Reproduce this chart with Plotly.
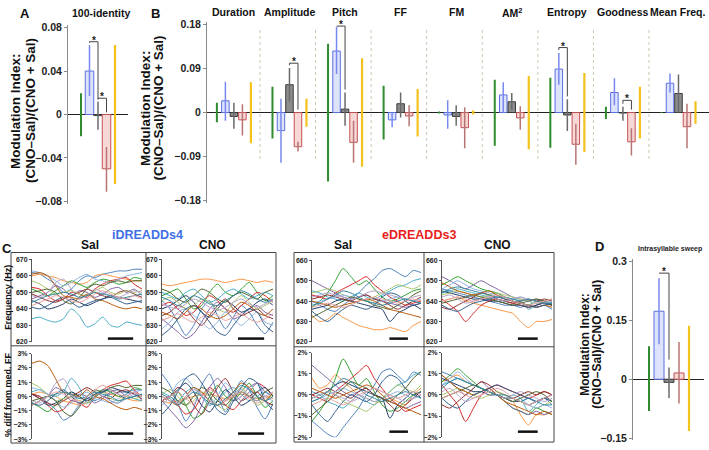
import numpy as np
import plotly.graph_objects as go

W, H = 709, 450
FONT = "Liberation Sans, Arial, Helvetica, sans-serif"

SERIES = ["green", "blue", "gray", "pink", "yellow"]

# ---------------- Panel A : 100-identity ----------------
A_val = [None, 0.040, -0.001, -0.050, None]
A_lo = [-0.020, 0.017, -0.014, -0.071, -0.064]
A_hi = [0.0195, 0.064, 0.012, -0.030, 0.064]
A_sig = [(0, 1, 2, 0.003), (0, 2, 3, 0.003)]
A_ticks = [-0.08, -0.04, 0, 0.04, 0.08]
A_ticktext = ["\u22120.08", "\u22120.04", "0", "0.04", "0.08"]

# ---------------- Panel B : song features ----------------
B_categories = ["Duration", "Amplitude", "Pitch", "FF", "FM", "AM<sup>2</sup>",
                "Entropy", "Goodness", "Mean Freq."]
B_green_lo = [-0.020, -0.053, -0.141, -0.055, -0.002, -0.068, -0.072, -0.013, -0.001]
B_green_hi = [0.020, 0.053, 0.141, 0.055, 0.002, 0.067, 0.071, 0.012, 0.001]
B_blue_val = [0.024, -0.037, 0.126, -0.015, -0.005, 0.036, 0.089, 0.041, 0.060]
B_blue_lo = [-0.017, -0.103, 0.079, -0.030, -0.033, 0.000, 0.057, 0.015, 0.041]
B_blue_hi = [0.063, 0.028, 0.175, 0.000, 0.025, 0.062, 0.122, 0.070, 0.080]
B_gray_val = [-0.008, 0.057, 0.007, 0.018, -0.008, 0.022, -0.005, -0.001, 0.039]
B_gray_lo = [-0.033, 0.023, -0.027, -0.010, -0.027, 0.005, -0.038, -0.017, 0.000]
B_gray_hi = [0.020, 0.091, 0.041, 0.041, 0.015, 0.040, 0.027, 0.012, 0.078]
B_pink_val = [-0.015, -0.070, -0.061, -0.007, -0.031, -0.011, -0.065, -0.060, -0.029]
B_pink_lo = [-0.047, -0.080, -0.103, -0.028, -0.073, -0.035, -0.107, -0.088, -0.073]
B_pink_hi = [0.017, -0.060, -0.017, 0.015, 0.011, 0.013, -0.023, -0.032, 0.018]
B_yellow_lo = [-0.063, -0.029, -0.111, -0.049, -0.004, -0.075, -0.081, -0.053, -0.023]
B_yellow_hi = [0.062, 0.028, 0.111, 0.048, 0.004, 0.075, 0.081, 0.053, 0.023]
B_sig = [(1, 2, 3, 0.010), (2, 1, 2, 0.002), (6, 1, 2, 0.011), (7, 2, 3, 0.013)]
B_ticks = [-0.18, -0.09, 0, 0.09, 0.18]
B_ticktext = ["\u22120.18", "\u22120.09", "0", "0.09", "0.18"]

# ---------------- Panel D : intrasyllable sweep ----------------
D_val = [None, 0.173, -0.008, 0.016, None]
D_lo = [-0.081, 0.089, -0.048, -0.062, -0.132]
D_hi = [0.084, 0.257, 0.030, 0.095, 0.136]
D_sig = [(0, 1, 2, 0.013)]
D_ticks = [-0.15, 0, 0.15, 0.3]
D_ticktext = ["\u22120.15", "0", "0.15", "0.3"]

# ---------------- Panel C : FF traces (Hz) ----------------
C_time = list(range(15))
iS_freq = [
    [662, 661, 658, 655, 650, 652, 657, 660, 659, 661, 662, 663, 663, 664, 664],
    [660, 661, 660, 659, 657, 656, 655, 656, 660, 661, 660, 659, 658, 657, 657],
    [652, 650, 648, 651, 654, 657, 655, 653, 656, 658, 657, 655, 656, 659, 658],
    [653, 652, 648, 645, 646, 650, 649, 647, 652, 655, 657, 658, 659, 655, 652],
    [646, 648, 650, 654, 652, 648, 651, 650, 647, 649, 652, 653, 650, 652, 648],
    [634, 635, 633, 632, 634, 640, 636, 629, 631, 635, 630, 629, 632, 631, 630],
    [645, 643, 640, 641, 643, 646, 644, 642, 644, 646, 648, 647, 646, 645, 644],
    [649, 647, 645, 644, 646, 648, 650, 652, 650, 648, 647, 650, 651, 649, 647],
    [657, 655, 652, 649, 650, 651, 649, 648, 651, 653, 650, 649, 651, 650, 651],
    [663, 662, 660, 657, 654, 656, 659, 661, 658, 657, 656, 658, 660, 661, 662],
    [650, 651, 652, 650, 645, 643, 647, 652, 655, 654, 656, 657, 656, 657, 657],
    [661, 662, 660, 654, 648, 647, 646, 649, 646, 645, 643, 641, 640, 641, 640],
    [641, 640, 642, 645, 647, 644, 641, 643, 645, 646, 647, 645, 643, 644, 645],
    [648, 647, 650, 656, 658, 652, 646, 648, 652, 650, 648, 647, 649, 651, 650],
    [644, 646, 648, 649, 650, 649, 647, 648, 650, 649, 648, 646, 647, 648, 649],
    [642, 644, 646, 648, 647, 645, 644, 646, 649, 651, 649, 647, 646, 648, 646],
]
iC_freq = [
    [645, 640, 632, 624, 630, 640, 645, 636, 628, 635, 642, 638, 630, 625, 632],
    [655, 654, 655, 656, 657, 658, 658, 657, 656, 657, 658, 657, 656, 657, 656],
    [648, 650, 652, 646, 640, 642, 650, 655, 650, 648, 652, 656, 650, 645, 648],
    [642, 644, 640, 636, 638, 644, 648, 645, 640, 638, 642, 646, 650, 648, 644],
    [634, 630, 626, 622, 625, 632, 640, 644, 640, 634, 636, 640, 642, 638, 636],
    [650, 648, 646, 650, 652, 648, 644, 646, 650, 652, 649, 646, 648, 650, 648],
    [640, 642, 645, 648, 644, 638, 635, 640, 645, 642, 638, 640, 644, 646, 642],
    [636, 638, 642, 640, 634, 630, 636, 642, 646, 640, 636, 638, 640, 636, 634],
    [645, 647, 644, 640, 642, 646, 644, 640, 638, 644, 648, 644, 640, 642, 645],
    [628, 632, 638, 640, 636, 632, 628, 632, 638, 634, 630, 634, 638, 632, 630],
    [652, 650, 646, 644, 648, 652, 650, 646, 644, 648, 650, 648, 646, 650, 652],
    [638, 636, 634, 638, 642, 640, 636, 634, 636, 640, 644, 642, 638, 636, 640],
    [624, 628, 634, 640, 642, 638, 632, 626, 624, 630, 636, 640, 638, 630, 626],
    [643, 641, 640, 643, 646, 644, 641, 639, 641, 644, 646, 643, 641, 643, 645],
    [647, 645, 642, 645, 648, 646, 643, 642, 645, 648, 651, 649, 646, 644, 646],
    [633, 635, 637, 634, 632, 635, 638, 636, 633, 635, 637, 634, 632, 634, 637],
]
eS_freq = [
    [640, 638, 636, 635, 638, 641, 644, 648, 651, 655, 656, 654, 652, 655, 654],
    [633, 630, 631, 634, 632, 630, 628, 627, 626, 626, 627, 626, 625, 628, 630],
    [637, 640, 644, 650, 656, 652, 648, 650, 646, 642, 640, 641, 643, 645, 646],
    [643, 642, 641, 644, 646, 648, 650, 652, 648, 645, 642, 640, 638, 639, 640],
    [650, 648, 646, 644, 642, 641, 642, 643, 641, 640, 639, 638, 637, 638, 639],
    [645, 644, 642, 641, 640, 642, 644, 642, 641, 643, 645, 647, 648, 650, 651],
    [636, 637, 638, 640, 641, 640, 639, 638, 637, 636, 630, 634, 636, 638, 636],
    [641, 642, 643, 642, 641, 640, 642, 643, 641, 640, 638, 636, 638, 640, 642],
    [644, 645, 646, 645, 643, 642, 641, 640, 642, 644, 646, 648, 647, 646, 648],
    [639, 640, 641, 642, 643, 642, 641, 640, 639, 640, 641, 642, 641, 640, 641],
    [632, 634, 636, 638, 640, 642, 641, 640, 638, 637, 636, 638, 640, 643, 645],
    [640, 639, 638, 637, 638, 639, 640, 641, 640, 638, 636, 635, 634, 633, 632],
    [635, 632, 630, 633, 636, 638, 637, 636, 638, 642, 644, 643, 640, 638, 639],
    [642, 643, 644, 643, 642, 641, 642, 644, 645, 644, 643, 642, 641, 642, 643],
    [638, 639, 641, 643, 645, 644, 642, 640, 639, 638, 639, 640, 641, 640, 639],
    [637, 638, 639, 638, 637, 638, 640, 641, 642, 641, 640, 639, 640, 641, 640],
]
eC_freq = [
    [646, 645, 644, 643, 642, 641, 640, 639, 638, 638, 637, 638, 637, 638, 636],
    [640, 641, 642, 640, 639, 638, 637, 636, 635, 634, 630, 627, 630, 630, 631],
    [648, 650, 652, 650, 648, 646, 645, 644, 642, 640, 639, 638, 640, 639, 638],
    [641, 638, 635, 630, 634, 638, 640, 641, 640, 639, 638, 637, 638, 639, 638],
    [652, 650, 648, 646, 648, 650, 648, 646, 644, 642, 641, 640, 641, 640, 641],
    [644, 645, 646, 645, 644, 643, 642, 641, 640, 641, 640, 636, 638, 640, 639],
    [645, 644, 643, 642, 641, 641, 640, 640, 639, 638, 638, 637, 638, 639, 638],
    [637, 636, 638, 640, 642, 644, 643, 641, 640, 639, 640, 641, 640, 641, 640],
    [643, 644, 645, 644, 643, 642, 643, 644, 643, 642, 641, 640, 639, 640, 641],
    [646, 648, 650, 648, 646, 645, 644, 643, 642, 641, 642, 640, 639, 640, 639],
    [639, 640, 641, 642, 643, 642, 641, 640, 639, 638, 639, 640, 641, 640, 638],
    [649, 647, 645, 644, 643, 644, 645, 643, 641, 640, 639, 638, 637, 638, 637],
    [638, 636, 635, 637, 639, 640, 641, 642, 641, 640, 639, 638, 637, 638, 639],
    [642, 643, 641, 639, 640, 641, 642, 641, 640, 641, 642, 641, 640, 639, 640],
    [644, 646, 647, 646, 645, 644, 643, 642, 642, 641, 640, 641, 640, 639, 639],
    [640, 641, 642, 641, 640, 641, 642, 643, 642, 640, 639, 638, 639, 640, 641],
]
C_hz_ticks_i = [620, 630, 640, 650, 660, 670]
C_hz_ticks_e = [620, 630, 640, 650, 660]
C_pct_ticks_i = [-3, -2, -1, 0, 1, 2, 3]
C_pct_ticks_e = [-2, -1, 0, 1, 2]

PAL = ["#4F81BD", "#F79646", "#2CA02C", "#D62728", "#8064A2", "#4BACC6",
       "#1F3864", "#8C2D2B", "#A8C66C", "#8DB4E2", "#4F6228", "#B65708",
       "#2E5C8A", "#B3A2C7", "#31859C", "#E6A0A0"]

STY = {
    "green": dict(err="#2E8B2E", lw=2.0),
    "blue": dict(fill="#DDE3FA", edge="#5B6FE3", err="#7888F0", lw=1.5),
    "gray": dict(fill="#8C8C8C", edge="#3A3A3A", err="#6A6A6A", lw=1.5),
    "pink": dict(fill="#F8D7D7", edge="#C45151", err="#B87474", lw=1.5),
    "yellow": dict(err="#F3C21C", lw=2.2),
}


def xd(a, b):
    return [a / W, b / W]


def yd(top, bottom):
    return [1 - bottom / H, 1 - top / H]


def fmt_num(v, suffix=""):
    s = f"{abs(v):g}{suffix}"
    return ("\u2212" + s) if v < 0 else s


fig = go.Figure()
shapes = []
annots = []


def ann(text, x, y, size, color="#111", bold=True, angle=0, xanchor="center"):
    annots.append(dict(text=text, x=x / W, y=1 - y / H, xref="paper", yref="paper",
                       showarrow=False, textangle=angle, xanchor=xanchor, yanchor="middle",
                       font=dict(family=FONT, size=size, color=color,
                                 weight="bold" if bold else "normal")))


def add_mod_panel(n, xs, vals, los, his, bw, sig, leg_pad):
    sfx = "" if n == 1 else str(n)
    xr, yr = "x" + sfx, "y" + sfx
    for k, s in enumerate(SERIES):
        if vals[k] is not None:
            st = STY[s]
            fig.add_trace(go.Bar(x=xs[k], y=vals[k], width=bw,
                                 marker=dict(color=st["fill"], line=dict(color=st["edge"], width=1)),
                                 xaxis=xr, yaxis=yr, hoverinfo="skip"))
    for k, s in enumerate(SERIES):
        ex, ey = [], []
        for x, lo, hi in zip(xs[k], los[k], his[k]):
            ex += [x, x, None]
            ey += [lo, hi, None]
        fig.add_trace(go.Scatter(x=ex, y=ey, mode="lines",
                                 line=dict(color=STY[s]["err"], width=STY[s]["lw"]),
                                 xaxis=xr, yaxis=yr, hoverinfo="skip"))

    def top_of(k, g):
        v = vals[k][g] if vals[k] is not None else 0
        return max(his[k][g], v, 0)

    for g, a, b, pad in sig:
        xa, xb = xs[a][g], xs[b][g]
        top = max(top_of(a, g), top_of(b, g)) + pad
        ya = min(top_of(a, g) + leg_pad, top)
        yb = min(top_of(b, g) + leg_pad, top)
        shapes.append(dict(type="path", xref=xr, yref=yr,
                           path=f"M {xa},{ya} L {xa},{top} L {xb},{top} L {xb},{yb}",
                           line=dict(color="#444", width=1)))
        annots.append(dict(text="*", x=(xa + xb) / 2, y=top, xref=xr, yref=yr,
                           showarrow=False, yanchor="bottom", yshift=-6,
                           font=dict(family=FONT, size=10, color="#222", weight="bold")))


def mod_yaxis(domain, rng, tv, tt, size, anchor):
    return dict(domain=domain, range=rng, tickvals=tv, ticktext=tt, showline=True,
                linecolor="#8A8A8A", linewidth=1, ticks="outside", ticklen=3,
                tickcolor="#8A8A8A", zeroline=True, zerolinecolor="#222",
                zerolinewidth=1, showgrid=False, anchor=anchor,
                tickfont=dict(family=FONT, size=size, color="#222", weight="bold"))


def hidden_x(domain, rng, anchor):
    return dict(domain=domain, range=rng, visible=False, showgrid=False,
                zeroline=False, anchor=anchor)


# ---- Panel A ----
pos5 = [[k] for k in range(5)]
add_mod_panel(1, pos5, [None if v is None else [v] for v in A_val],
              [[v] for v in A_lo], [[v] for v in A_hi], 1.0, A_sig, 0.002)
# ---- Panel B ----
B_off = [0.225, 0.378, 0.531, 0.684, 0.837]
B_xs = [[i + o for i in range(len(B_categories))] for o in B_off]
add_mod_panel(2, B_xs, [None, B_blue_val, B_gray_val, B_pink_val, None],
              [B_green_lo, B_blue_lo, B_gray_lo, B_pink_lo, B_yellow_lo],
              [B_green_hi, B_blue_hi, B_gray_hi, B_pink_hi, B_yellow_hi],
              0.135, B_sig, 0.006)
# ---- Panel D ----
add_mod_panel(3, pos5, [None if v is None else [v] for v in D_val],
              [[v] for v in D_lo], [[v] for v in D_hi], 1.0, D_sig, 0.02)

layout_axes = {
    "xaxis": hidden_x(xd(68, 128), [-1.53, 5.53], "y"),
    "yaxis": mod_yaxis(yd(21.8, 203.2), [-0.082, 0.082], A_ticks, A_ticktext, 10.5, "x"),
    "xaxis2": hidden_x(xd(207, 709), [0.047, 9.08], "y2"),
    "yaxis2": mod_yaxis(yd(18.5, 202.5), [-0.185, 0.185], B_ticks, B_ticktext, 10.5, "x2"),
    "xaxis3": hidden_x(xd(633, 704), [-1.6, 5.5], "y3"),
    "yaxis3": mod_yaxis(yd(260, 444), [-0.155, 0.305], D_ticks, D_ticktext, 10.5, "x3"),
}

# ---- Panel C ----
C_panels = [
    (iS_freq, (32, 142), (260, 344), [620, 670], C_hz_ticks_i, (356, 443), [-3, 3], C_pct_ticks_i, (0.69, 0.92)),
    (iC_freq, (162, 273), (260, 344), [620, 670], C_hz_ticks_i, (356, 443), [-3, 3], C_pct_ticks_i, (0.685, 0.92)),
    (eS_freq, (312, 421), (261, 344), [620, 660], C_hz_ticks_e, (355, 441), [-2, 2], C_pct_ticks_e, (0.71, 0.88)),
    (eC_freq, (442, 552), (261, 344), [620, 660], C_hz_ticks_e, (355, 441), [-2, 2], C_pct_ticks_e, (0.69, 0.87)),
]


def c_yaxis(domain, rng, tv, anchor, suffix):
    return dict(domain=domain, range=rng, tickvals=tv,
                ticktext=[fmt_num(v, suffix) for v in tv], showline=True,
                linecolor="#555", linewidth=1, ticks="outside", ticklen=2, tickcolor="#555",
                showgrid=False, zeroline=False, anchor=anchor,
                tickfont=dict(family=FONT, size=7, color="#222", weight="bold"))


n = 4
for freq, xpx, ytop, hzr, hzt, ybot, pr, pt, sb in C_panels:
    for row in range(2):
        sfx = str(n)
        layout_axes["xaxis" + sfx] = hidden_x(xd(*xpx), [0, C_time[-1]], "y" + sfx)
        if row == 0:
            layout_axes["yaxis" + sfx] = c_yaxis(yd(*ytop), hzr, hzt, "x" + sfx, "")
        else:
            layout_axes["yaxis" + sfx] = c_yaxis(yd(*ybot), pr, pt, "x" + sfx, "%")
        for k, tr in enumerate(freq):
            arr = np.array(tr, dtype=float)
            yv = arr if row == 0 else (arr / np.median(arr) - 1.0) * 100.0
            fig.add_trace(go.Scatter(x=C_time, y=yv, mode="lines",
                                     line=dict(color=PAL[k % len(PAL)], width=1,
                                               shape="spline", smoothing=0.7),
                                     xaxis="x" + sfx, yaxis="y" + sfx, hoverinfo="skip"))
        yfrac = 0.04 if row == 0 else 0.065
        shapes.append(dict(type="line", xref=f"x{sfx} domain", yref=f"y{sfx} domain",
                           x0=sb[0], x1=sb[1], y0=yfrac, y1=yfrac,
                           line=dict(color="#111", width=2.5)))
        n += 1

# B separators
for i in range(1, len(B_categories)):
    shapes.append(dict(type="line", xref="x2", yref="y2", x0=i, x1=i, y0=-0.095, y1=0.175,
                       line=dict(color="#CFC6B0", width=1, dash="dot")))

# C boxes
for (x0, x1, xm, y0, y1, ym) in [(11, 276, 146, 253, 447, 348), (294, 554, 424, 253, 446, 349)]:
    shapes.append(dict(type="rect", xref="paper", yref="paper", x0=x0 / W, x1=x1 / W,
                       y0=1 - y1 / H, y1=1 - y0 / H, line=dict(color="#444", width=1)))
    shapes.append(dict(type="line", xref="paper", yref="paper", x0=xm / W, x1=xm / W,
                       y0=1 - y1 / H, y1=1 - y0 / H, line=dict(color="#444", width=1)))
    shapes.append(dict(type="line", xref="paper", yref="paper", x0=x0 / W, x1=x1 / W,
                       y0=1 - ym / H, y1=1 - ym / H, line=dict(color="#444", width=1)))

# Text
ann("A", 25, 10, 13)
ann("100-identity", 101, 9, 10.5)
ann("B", 155, 10, 13)
for i, c in enumerate(B_categories):
    annots.append(dict(text=c, x=i + 0.53, y=1 - 8.5 / H, xref="x2", yref="paper",
                       showarrow=False, yanchor="middle",
                       font=dict(family=FONT, size=10.5, color="#111", weight="bold")))
ann("Modulation Index:", 15, 109, 13.5, angle=-90)
ann("(CNO\u2013Sal)/(CNO + Sal)", 30, 109, 13.5, angle=-90)
ann("Modulation Index:", 145, 106, 13.5, angle=-90)
ann("(CNO\u2013Sal)/(CNO + Sal)", 158.5, 106, 13.5, angle=-90)
ann("Modulation Index:", 585, 347, 12, angle=-90)
ann("(CNO\u2013Sal)/(CNO + Sal)", 597, 347, 12, angle=-90)
ann("C", 7, 249, 13)
ann("iDREADDs4", 147, 235, 12.5, color="#3F6FE6")
ann("Sal", 90, 245, 12)
ann("CNO", 213, 245, 12)
ann("eDREADDs3", 419, 235, 12.5, color="#E82020")
ann("Sal", 343, 245, 12)
ann("CNO", 497, 245, 12)
ann("Frequency (Hz)", 8, 299, 9, angle=-90)
ann("% diff from med. FF", 8, 398, 9, angle=-90)
ann("D", 599, 247, 13)
ann("Intrasyllable sweep", 670, 249, 7, color="#222")

fig.update_layout(width=W, height=H, margin=dict(l=0, r=0, t=0, b=0),
                  paper_bgcolor="white", plot_bgcolor="rgba(0,0,0,0)",
                  showlegend=False, barmode="overlay", hovermode=False,
                  font=dict(family=FONT), shapes=shapes, annotations=annots,
                  **layout_axes)

fig.write_html("out.html", config={"displayModeBar": False, "staticPlot": True},
               post_script="document.body.style.margin='0';document.body.style.overflow='hidden';")
